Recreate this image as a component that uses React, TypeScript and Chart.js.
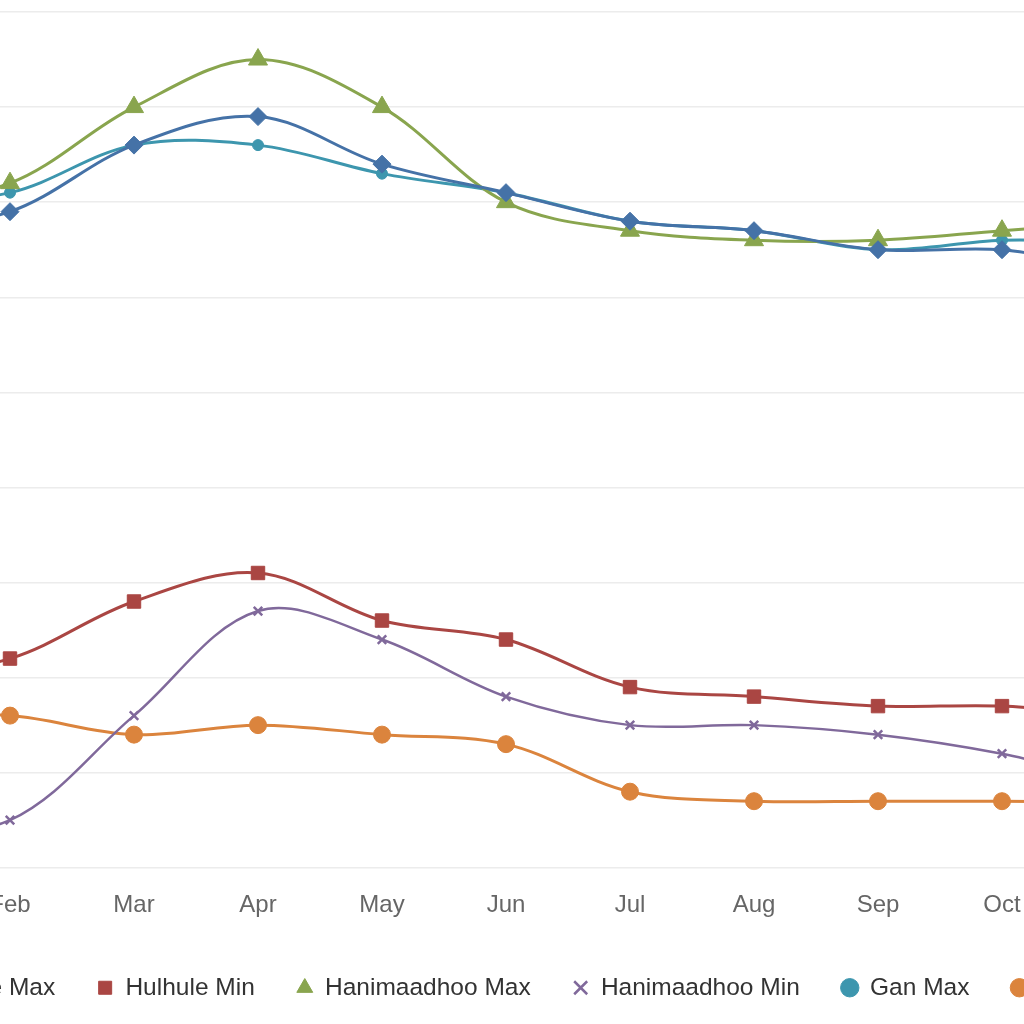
import React, { useEffect, useRef } from "react";
import { Chart, registerables } from "chart.js";

Chart.register(...registerables);

const months = ["Jan", "Feb", "Mar", "Apr", "May", "Jun", "Jul", "Aug", "Sep", "Oct", "Nov", "Dec"];

const hulhuleMax = [29.7, 29.9, 30.6, 30.9, 30.4, 30.1, 29.8, 29.7, 29.5, 29.5, 29.3, 29.4];
const hulhuleMin = [25.0, 25.2, 25.8, 26.1, 25.6, 25.4, 24.9, 24.8, 24.7, 24.7, 24.6, 24.7];
const hanimaadhooMax = [30.0, 30.2, 31.0, 31.5, 31.0, 30.0, 29.7, 29.6, 29.6, 29.7, 29.8, 29.9];
const hanimaadhooMin = [23.4, 23.5, 24.6, 25.7, 25.4, 24.8, 24.5, 24.5, 24.4, 24.2, 23.9, 23.8];
const ganMax = [30.0, 30.1, 30.6, 30.6, 30.3, 30.1, 29.8, 29.7, 29.5, 29.6, 29.6, 29.8];
const ganMin = [24.6, 24.6, 24.4, 24.5, 24.4, 24.3, 23.8, 23.7, 23.7, 23.7, 23.7, 23.8];

const yMin = 23;
const yMax = 32;
const yStep = 1;

const FONT = "'Liberation Sans', Arial, Helvetica, sans-serif";

// canvas geometry (the visible window shows a crop of a wider chart)
const CW = 1625;
const CH = 1010;
const OX = -301;
const OY = 0;
const Y_AXIS_W = 125;
const X_AXIS_H = 65.75;

export default function App() {
  const ref = useRef<HTMLCanvasElement | null>(null);

  useEffect(() => {
    const canvas = ref.current;
    if (!canvas) return;
    const mk = (label: string, data: number[], color: string, style: string, radius: number, bw = 3) => ({
      label,
      data,
      borderColor: color,
      backgroundColor: color,
      pointBackgroundColor: color,
      pointBorderColor: color,
      pointStyle: style,
      pointRadius: radius,
      pointBorderWidth: style === "crossRot" ? 2.5 : 1,
      borderWidth: bw,
      tension: 0.35,
      fill: false,
    });
    const chart = new Chart(canvas, {
      type: "line",
      data: {
        labels: months,
        datasets: [
          mk("Hulhule Max", hulhuleMax, "#4572A7", "rectRot", 9),
          mk("Hulhule Min", hulhuleMin, "#AA4643", "rect", 9.5),
          mk("Hanimaadhoo Max", hanimaadhooMax, "#89A54E", "triangle", 11),
          mk("Hanimaadhoo Min", hanimaadhooMin, "#80699B", "crossRot", 6, 2.5),
          mk("Gan Max", ganMax, "#3D96AE", "circle", 5.5),
          mk("Gan Min", ganMin, "#DB843D", "circle", 8.5),
        ] as any,
      },
      options: {
        responsive: false,
        animation: false,
        layout: { padding: { top: 12, left: 0, right: 0, bottom: 0 } },
        plugins: {
          title: { display: false },
          tooltip: { enabled: false },
          legend: {
            display: true,
            position: "bottom",
            align: "center",
            labels: {
              usePointStyle: true,
              boxWidth: 16,
              boxHeight: 13,
              padding: 42,
              color: "#333333",
              font: { family: FONT, size: 24.5 },
            },
          },
        },
        scales: {
          x: {
            type: "category",
            offset: true,
            grid: { display: false, drawTicks: false },
            border: { display: false },
            ticks: {
              color: "#666666",
              font: { family: FONT, size: 24 },
              padding: 23,
              maxRotation: 0,
              autoSkip: false,
            },
            afterFit: (scale: any) => {
              scale.height = X_AXIS_H;
            },
          },
          y: {
            type: "linear",
            min: yMin,
            max: yMax,
            ticks: { display: false, stepSize: yStep },
            grid: { color: "#ececec", lineWidth: 1.5, drawTicks: false },
            border: { display: false },
            afterFit: (scale: any) => {
              scale.width = Y_AXIS_W;
            },
          },
        },
      } as any,
    });
    return () => chart.destroy();
  }, []);

  return (
    <div
      style={{
        position: "absolute",
        left: 0,
        top: 0,
        width: 1024,
        height: 1024,
        overflow: "hidden",
        background: "#ffffff",
      }}
    >
      <canvas
        ref={ref}
        width={CW}
        height={CH}
        style={{ position: "absolute", left: OX, top: OY, width: CW, height: CH }}
      />
    </div>
  );
}
